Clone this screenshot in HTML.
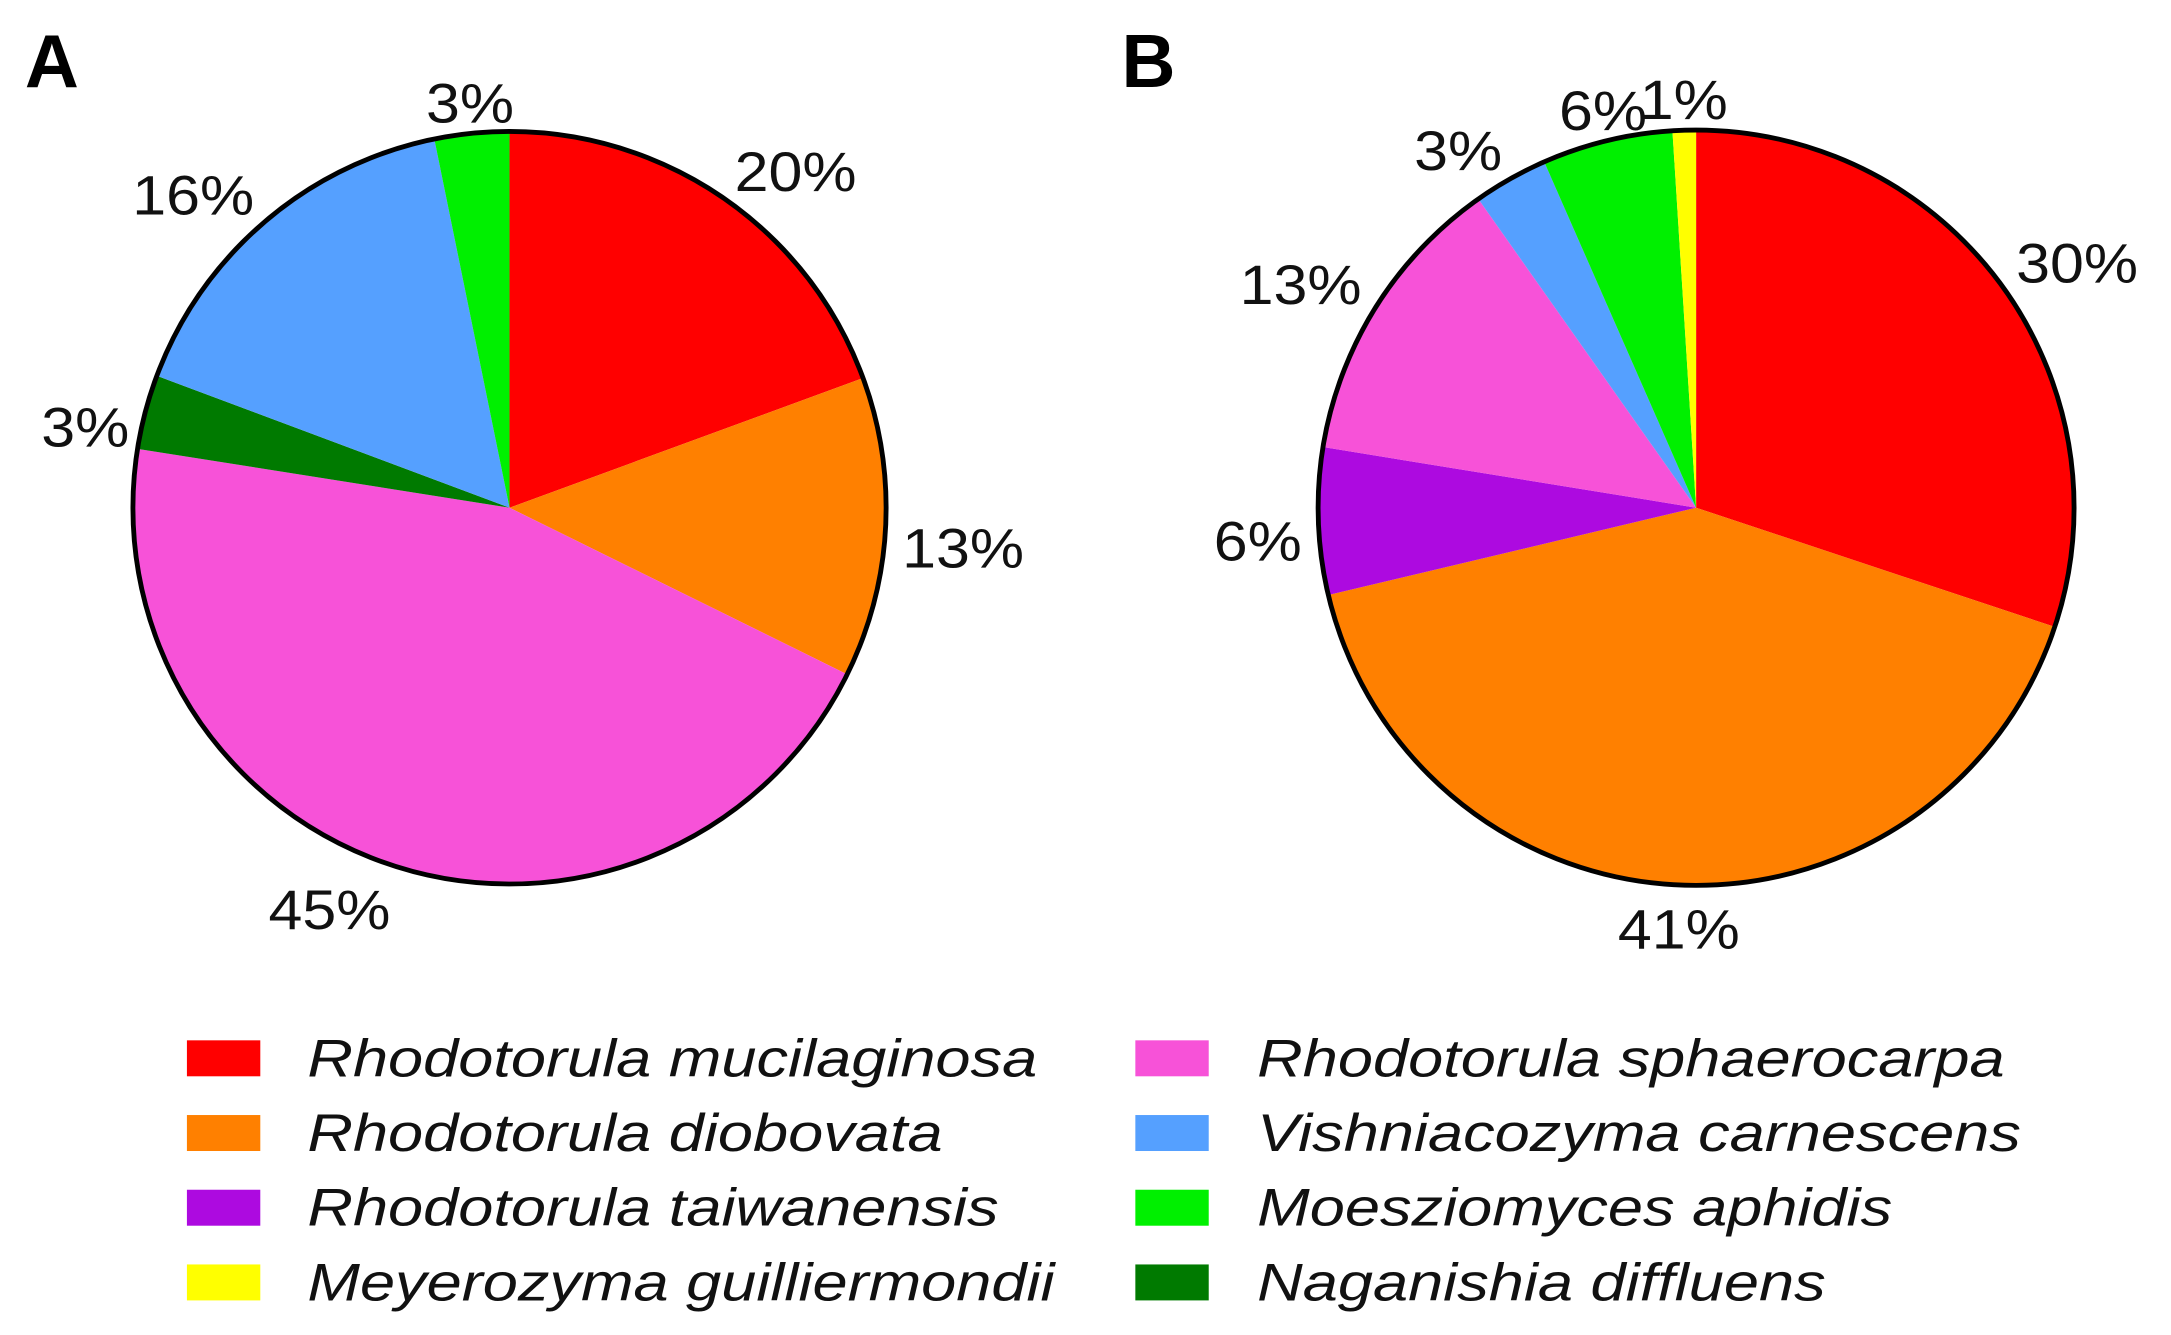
<!DOCTYPE html>
<html><head><meta charset="utf-8">
<style>
html,body{margin:0;padding:0;background:#fff;}
svg{display:block;}
text{font-family:"Liberation Sans",Arial,sans-serif;}
</style></head>
<body>
<svg id="chart" width="2171" height="1335" viewBox="0 0 1568 965" preserveAspectRatio="none" xmlns="http://www.w3.org/2000/svg">
<text x="18" y="63" font-size="54" font-weight="bold">A</text>
<text x="810" y="63" font-size="54" font-weight="bold">B</text>
<g id="pieA"></g>
<g id="pieB"></g>
<g id="legend"></g>
</svg>
<script>
const speciesNames = ["Rhodotorula mucilaginosa","Rhodotorula diobovata","Rhodotorula taiwanensis","Meyerozyma guilliermondii","Rhodotorula sphaerocarpa","Vishniacozyma carnescens","Moesziomyces aphidis","Naganishia diffluens"];
const speciesColors = ["#ff0000","#ff8000","#ad0ae0","#ffff00","#f752d8","#55a0ff","#00f000","#007a00"];
const pieACategories = ["Rhodotorula mucilaginosa","Rhodotorula diobovata","Rhodotorula sphaerocarpa","Naganishia diffluens","Vishniacozyma carnescens","Moesziomyces aphidis"];
const pieAValues = [19.4, 12.9, 45.2, 3.2, 16.1, 3.2];
const pieALabels = ["20%","13%","45%","3%","16%","3%"];
const pieBCategories = ["Rhodotorula mucilaginosa","Rhodotorula diobovata","Rhodotorula taiwanensis","Rhodotorula sphaerocarpa","Vishniacozyma carnescens","Moesziomyces aphidis","Meyerozyma guilliermondii"];
const pieBValues = [30.2, 41.3, 6.3, 12.7, 3.2, 5.6, 1.0];
const pieBLabels = ["30%","41%","6%","13%","3%","6%","1%"];

const NS="http://www.w3.org/2000/svg";
function mk(tag, attrs, parent){const e=document.createElementNS(NS,tag);for(const k in attrs)e.setAttribute(k,attrs[k]);parent.appendChild(e);return e;}
function pt(cx,cy,r,a){return [cx+r*Math.sin(a), cy-r*Math.cos(a)];}
function drawPie(gid, cx, cy, r, cats, vals, labels){
  const g=document.getElementById(gid);
  const total=vals.reduce((a,b)=>a+b,0);
  let a0=0;
  vals.forEach((v,i)=>{
    const a1=a0+v/total*2*Math.PI;
    const [x0,y0]=pt(cx,cy,r,a0),[x1,y1]=pt(cx,cy,r,a1);
    const large=(a1-a0)>Math.PI?1:0;
    const p=mk('path',{d:`M${cx},${cy} L${x0},${y0} A${r},${r} 0 ${large} 1 ${x1},${y1} Z`,fill:speciesColors[speciesNames.indexOf(cats[i])],stroke:'none'},g);
    
    
    const am=(a0+a1)/2;
    const s=Math.sin(am);
    const [lx,ly]=pt(cx,cy,r+12,am);
    const anchor=Math.abs(s)<0.3?'middle':(s>0?'start':'end');
    const dy=Math.cos(am)>0.3?-10:14+(Math.cos(am)<-0.3?6:0);
    const tg=mk('g',{transform:`translate(${lx},${ly+dy}) scale(1.1,1)`},g);
    const t=mk('text',{x:0,y:14,'font-size':40,'text-anchor':anchor,fill:'#111'},tg);
    t.textContent=labels[i];
    
    
    a0=a1;
  });
  const c=mk('circle',{cx:cx,cy:cy,r:r,fill:'none',stroke:'#000','stroke-width':3.5},g);
  
  
}
drawPie('pieA',368,367,272,pieACategories,pieAValues,pieALabels);
drawPie('pieB',1225,367,273,pieBCategories,pieBValues,pieBLabels);

const lg=document.getElementById('legend');
speciesNames.forEach((n,i)=>{
  const col=Math.floor(i/4), row=i%4;
  const sx=col?820:135, tx=col?908:222, cy=765+row*54;
  const r=mk('rect',{x:sx,y:cy-13,width:53,height:26,fill:speciesColors[i]},lg);
  
  
  const tg=mk('g',{transform:`translate(${tx},${cy+13}) scale(1.2,1)`},lg);
  const t=mk('text',{x:0,y:0,'font-size':38,'font-style':'italic',fill:'#111'},tg);
  t.textContent=n;
  
  
});
</script>
</body></html>
